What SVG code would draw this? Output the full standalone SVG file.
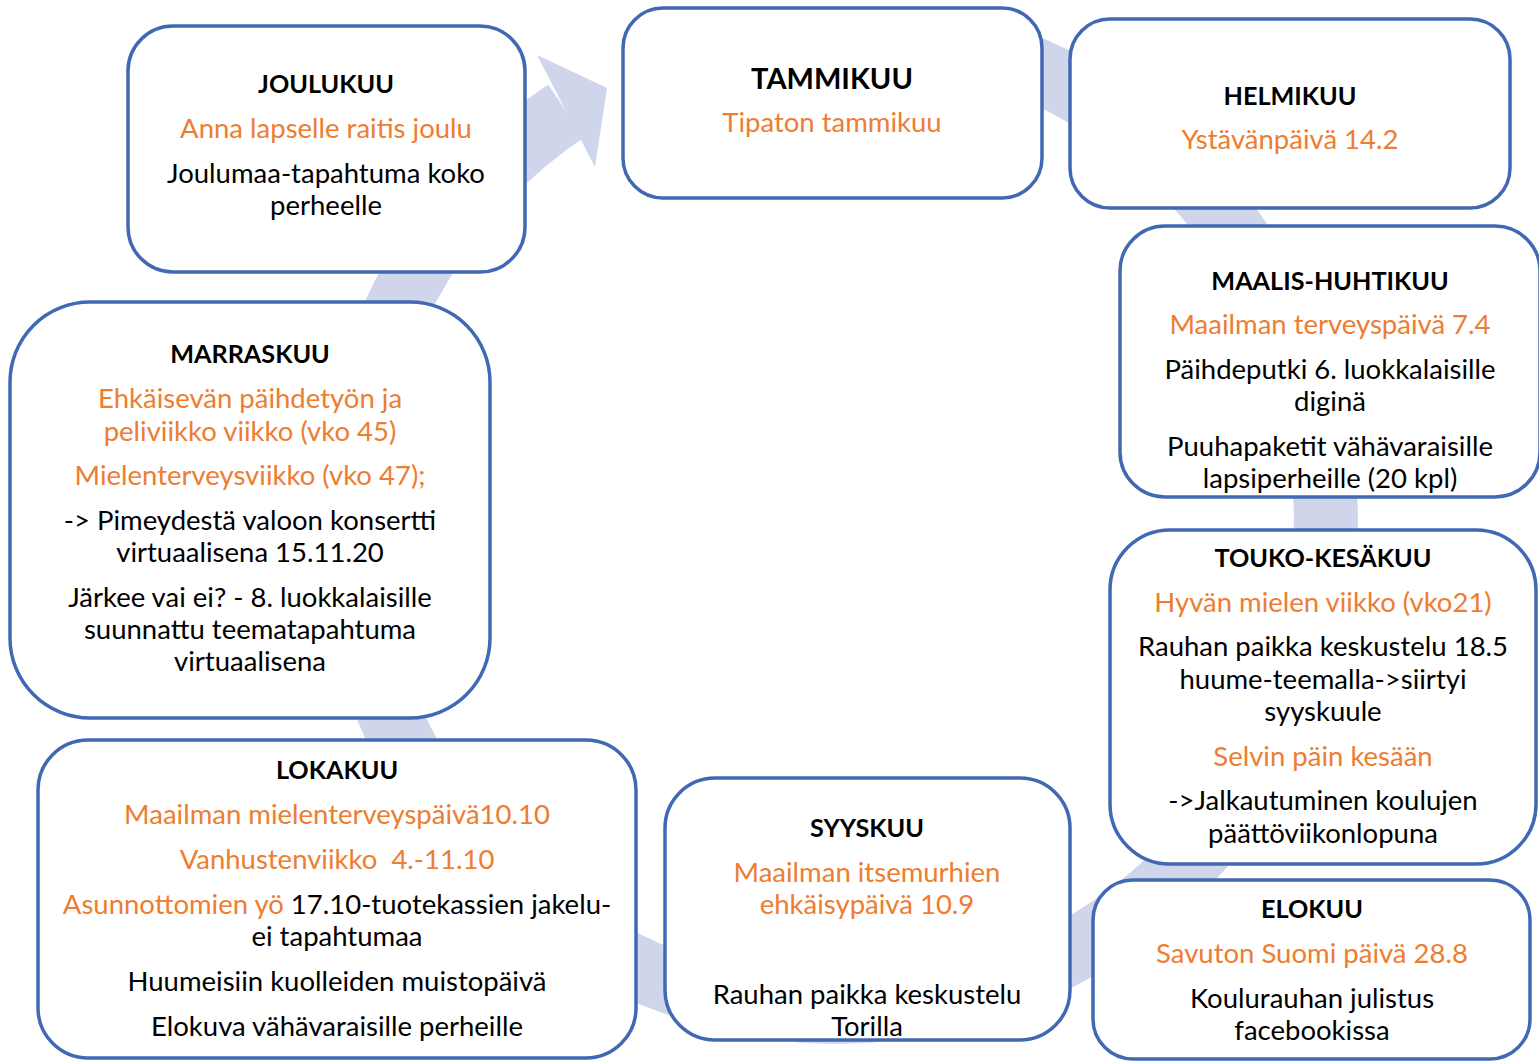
<svg xmlns="http://www.w3.org/2000/svg" width="1539" height="1061" viewBox="0 0 1539 1061">
<style>
.box{fill:#ffffff;stroke:#4169B3;stroke-width:3.5}
text{font-family:Lato,"Open Sans","Liberation Sans",sans-serif;font-size:27.5px;text-anchor:middle;fill:#000000}
.h{font-weight:bold;font-size:25.2px}
.o{fill:#ED7D31}
.band{fill:none;stroke:#CFD5EA;stroke-width:64}
</style>
<rect width="1539" height="1061" fill="#ffffff"/>
<g id="connectors">
<path class="band" d="M 1001 56 A 488 492 0 1 1 566 111"/>
<polygon points="537,55 607,88 595,167" fill="#CFD5EA"/>
</g>
<g id="joulukuu">
<rect class="box" x="128" y="26" width="397" height="246" rx="45"/>
<text class="h" x="326" y="93">JOULUKUU</text>
<text class="o" x="326" y="138">Anna lapselle raitis joulu</text>
<text x="326" y="183">Joulumaa-tapahtuma koko</text>
<text x="326" y="215">perheelle</text>
</g>
<g id="tammikuu">
<rect class="box" x="623" y="8" width="419" height="190" rx="40"/>
<text class="h" x="832" y="89" style="font-size:29px">TAMMIKUU</text>
<text class="o" x="832" y="132">Tipaton tammikuu</text>
</g>
<g id="helmikuu">
<rect class="box" x="1070" y="19" width="440" height="189" rx="40"/>
<text class="h" x="1290" y="105">HELMIKUU</text>
<text class="o" x="1290" y="149">Ystävänpäivä 14.2</text>
</g>
<g id="maalis-huhtikuu">
<rect class="box" x="1120" y="226" width="420" height="271" rx="45"/>
<text class="h" x="1330" y="290">MAALIS-HUHTIKUU</text>
<text class="o" x="1330" y="334">Maailman terveyspäivä 7.4</text>
<text x="1330" y="379">Päihdeputki 6. luokkalaisille</text>
<text x="1330" y="411">diginä</text>
<text x="1330" y="456">Puuhapaketit vähävaraisille</text>
<text x="1330" y="488">lapsiperheille (20 kpl)</text>
</g>
<g id="marraskuu">
<rect class="box" x="10" y="302" width="480" height="416" rx="80"/>
<text class="h" x="250" y="363">MARRASKUU</text>
<text class="o" x="250" y="408">Ehkäisevän päihdetyön ja</text>
<text class="o" x="250" y="441">peliviikko viikko (vko 45)</text>
<text class="o" x="250" y="485">Mielenterveysviikko (vko 47);</text>
<text x="250" y="530">-&gt; Pimeydestä valoon konsertti</text>
<text x="250" y="562">virtuaalisena 15.11.20</text>
<text x="250" y="607">Järkee vai ei? - 8. luokkalaisille</text>
<text x="250" y="639">suunnattu teematapahtuma</text>
<text x="250" y="671">virtuaalisena</text>
</g>
<g id="touko-kesakuu">
<rect class="box" x="1110" y="530" width="426" height="334" rx="60"/>
<text class="h" x="1323" y="567">TOUKO-KESÄKUU</text>
<text class="o" x="1323" y="612">Hyvän mielen viikko (vko21)</text>
<text x="1323" y="656">Rauhan paikka keskustelu 18.5</text>
<text x="1323" y="689">huume-teemalla-&gt;siirtyi</text>
<text x="1323" y="721">syyskuule</text>
<text class="o" x="1323" y="766">Selvin päin kesään</text>
<text x="1323" y="810">-&gt;Jalkautuminen koulujen</text>
<text x="1323" y="843">päättöviikonlopuna</text>
</g>
<g id="lokakuu">
<rect class="box" x="38" y="740" width="598" height="318" rx="50"/>
<text class="h" x="337" y="779">LOKAKUU</text>
<text class="o" x="337" y="824">Maailman mielenterveyspäivä10.10</text>
<text class="o" x="337" y="869" xml:space="preserve">Vanhustenviikko  4.-11.10</text>
<text x="337" y="914"><tspan class="o">Asunnottomien yö </tspan>17.10-tuotekassien jakelu-</text>
<text x="337" y="946">ei tapahtumaa</text>
<text x="337" y="991">Huumeisiin kuolleiden muistopäivä</text>
<text x="337" y="1036">Elokuva vähävaraisille perheille</text>
</g>
<g id="syyskuu">
<rect class="box" x="665" y="778" width="405" height="262" rx="50"/>
<text class="h" x="867" y="837">SYYSKUU</text>
<text class="o" x="867" y="882">Maailman itsemurhien</text>
<text class="o" x="867" y="914">ehkäisypäivä 10.9</text>
<text x="867" y="1004">Rauhan paikka keskustelu</text>
<text x="867" y="1036">Torilla</text>
</g>
<g id="elokuu">
<rect class="box" x="1093" y="880" width="437" height="179" rx="40"/>
<text class="h" x="1312" y="918">ELOKUU</text>
<text class="o" x="1312" y="963">Savuton Suomi päivä 28.8</text>
<text x="1312" y="1008">Koulurauhan julistus</text>
<text x="1312" y="1040">facebookissa</text>
</g>
</svg>
